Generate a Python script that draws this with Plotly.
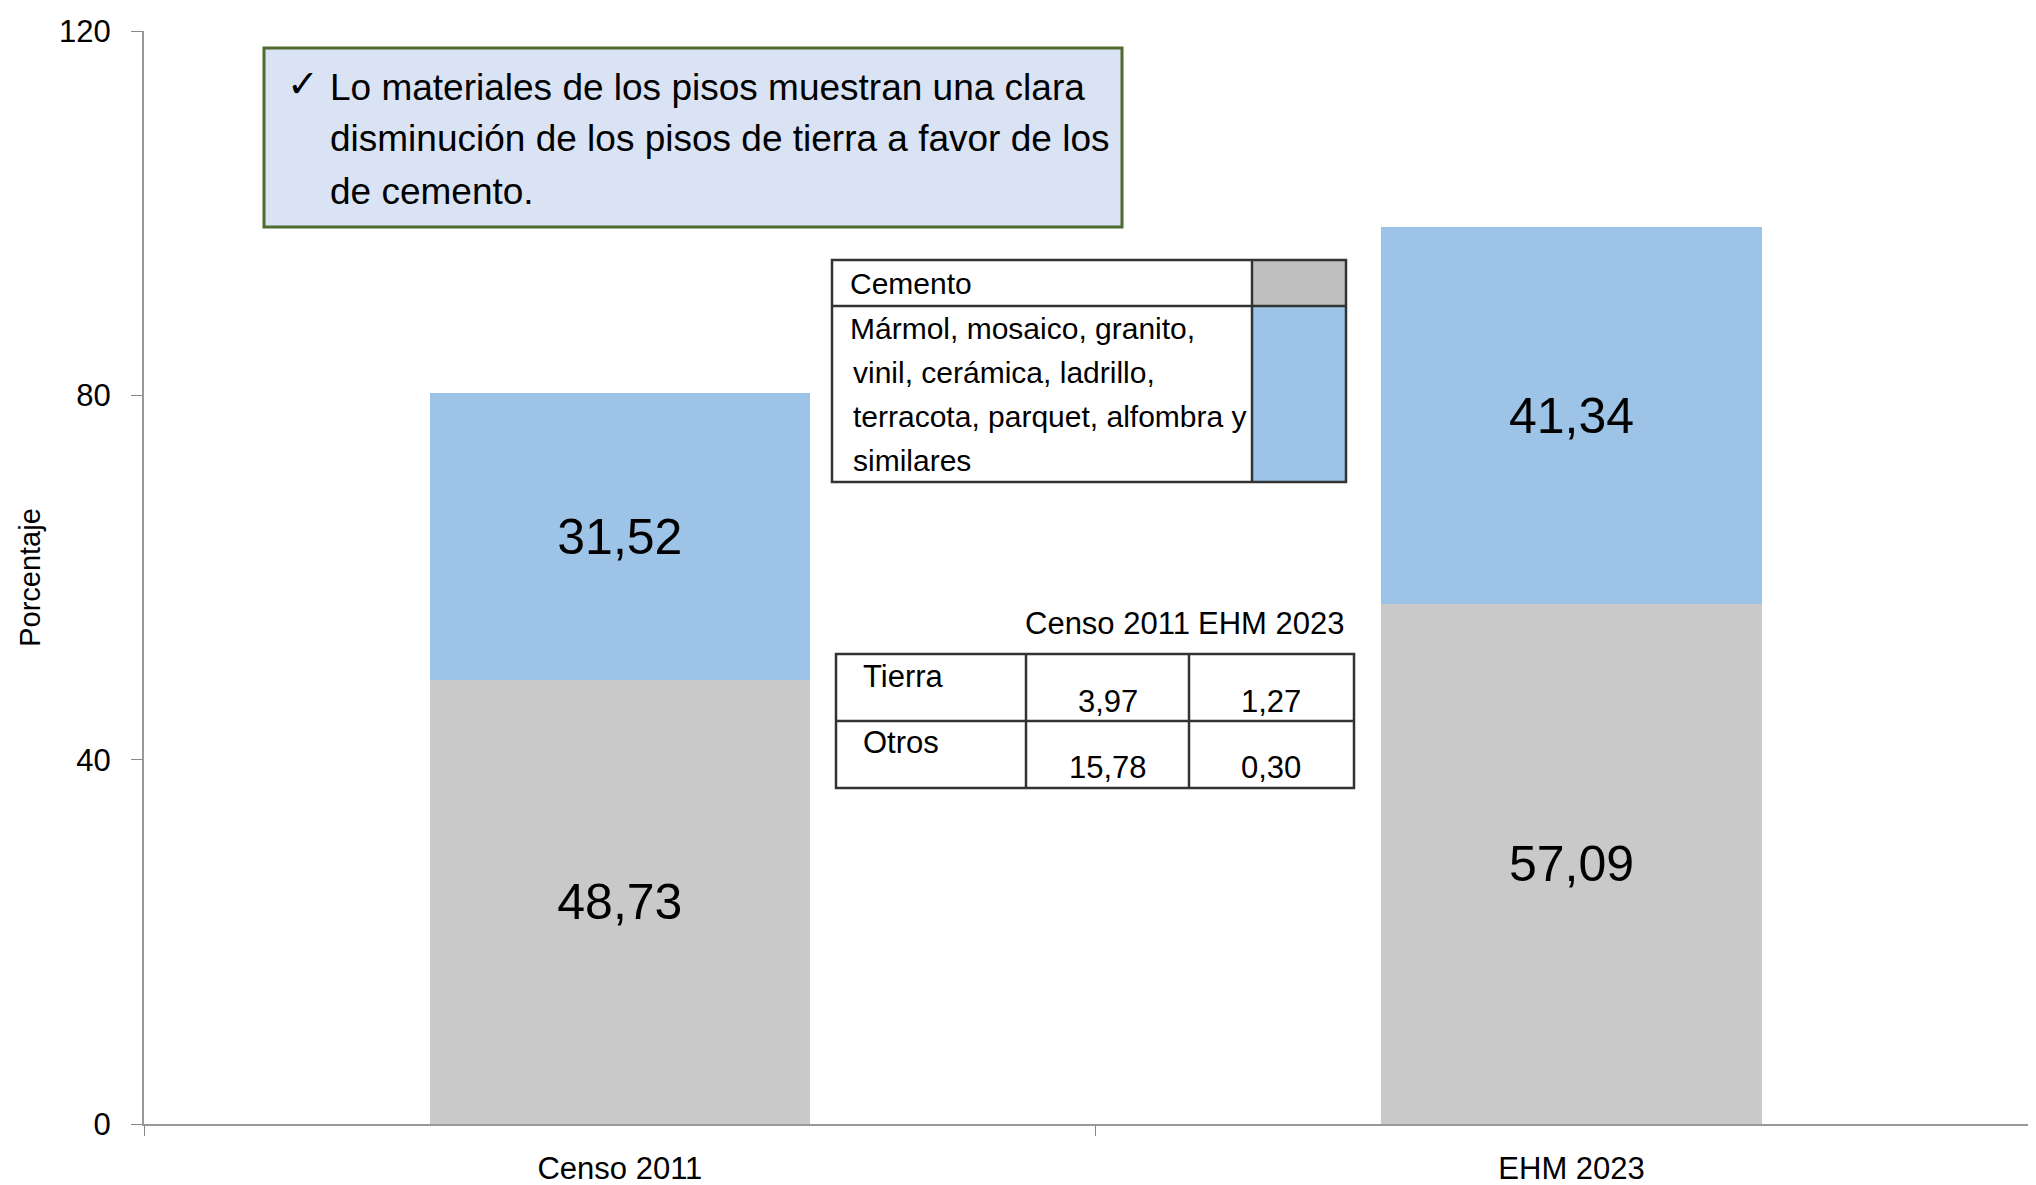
import plotly.graph_objects as go

# datos
categorias = ["Censo 2011", "EHM 2023"]
cemento = [48.73, 57.09]
marmol_otros = [31.52, 41.34]
etiq_cemento = ["48,73", "57,09"]
etiq_marmol = ["31,52", "41,34"]

tabla_filas = ["Tierra", "Otros"]
tabla_censo = ["3,97", "15,78"]
tabla_ehm = ["1,27", "0,30"]

nota = ["Lo materiales de los pisos muestran una clara",
        "disminución de los pisos de tierra a favor de los",
        "de cemento."]
leyenda_cemento = "Cemento"
leyenda_marmol = ["Mármol, mosaico, granito,",
                  "vinil, cerámica, ladrillo,",
                  "terracota, parquet, alfombra y",
                  "similares"]

GRIS = "#C9C9C9"
AZUL = "#9DC3E6"
BORDE = "#333333"
FUENTE = "Liberation Sans, Arial"


# posiciones de página (px) -> coordenadas paper
def px(x):
    return (x - 144) / 1892


def py(y):
    return (1124 - y) / 1093


def texto(t, x, y, size, xanchor="center", family=FUENTE):
    return dict(text=t, xref="paper", yref="paper", x=px(x), y=py(y),
                xanchor=xanchor, yanchor="middle", showarrow=False,
                font=dict(size=size, family=family, color="black"))


fig = go.Figure()

fig.add_trace(go.Bar(
    x=categorias, y=cemento, marker=dict(color=GRIS, line=dict(width=0)),
    text=etiq_cemento, textposition="inside", insidetextanchor="middle",
    textfont=dict(size=50, color="black", family=FUENTE), width=0.4, name="Cemento"
))
fig.add_trace(go.Bar(
    x=categorias, y=marmol_otros, marker=dict(color=AZUL, line=dict(width=0)),
    text=etiq_marmol, textposition="inside", insidetextanchor="middle",
    textfont=dict(size=50, color="black", family=FUENTE), width=0.4, name="Mármol"
))

shapes = []
annots = []

# recuadro de la nota
shapes.append(dict(type="rect", xref="paper", yref="paper",
                   x0=px(264), x1=px(1122), y0=py(227), y1=py(48),
                   fillcolor="#DAE3F3", line=dict(color="#4F6B2F", width=3)))
annots.append(texto("✓", 303, 84, 38, family="DejaVu Sans"))
for i, linea in enumerate(nota):
    annots.append(texto(linea, 328, 87 + 52 * i, 37, xanchor="left"))

# leyenda tipo tabla
lx0, lx1, lxs = 832, 1346, 1252
ly0, ly1, lym = 260, 482, 306
shapes.append(dict(type="rect", xref="paper", yref="paper", x0=px(lxs), x1=px(lx1),
                   y0=py(lym), y1=py(ly0), fillcolor="#C0C0C0", line=dict(width=0)))
shapes.append(dict(type="rect", xref="paper", yref="paper", x0=px(lxs), x1=px(lx1),
                   y0=py(ly1), y1=py(lym), fillcolor=AZUL, line=dict(width=0)))
shapes.append(dict(type="rect", xref="paper", yref="paper", x0=px(lx0), x1=px(lx1),
                   y0=py(ly1), y1=py(ly0), line=dict(color=BORDE, width=2.5)))
shapes.append(dict(type="line", xref="paper", yref="paper", x0=px(lxs), x1=px(lxs),
                   y0=py(ly1), y1=py(ly0), line=dict(color=BORDE, width=2.5)))
shapes.append(dict(type="line", xref="paper", yref="paper", x0=px(lx0), x1=px(lx1),
                   y0=py(lym), y1=py(lym), line=dict(color=BORDE, width=2.5)))
annots.append(texto(leyenda_cemento, 848, 284, 30, xanchor="left"))
for i, linea in enumerate(leyenda_marmol):
    annots.append(texto(linea, 848 if i == 0 else 851, 328 + 44 * i, 30, xanchor="left"))

# tabla Tierra / Otros
tx = [836, 1026, 1189, 1354]
ty = [654, 721, 788]
annots.append(texto(categorias[0], 1107, 623, 31))
annots.append(texto(categorias[1], 1271, 623, 31))
shapes.append(dict(type="rect", xref="paper", yref="paper", x0=px(tx[0]), x1=px(tx[3]),
                   y0=py(ty[2]), y1=py(ty[0]), line=dict(color=BORDE, width=2.5)))
for xv in tx[1:3]:
    shapes.append(dict(type="line", xref="paper", yref="paper", x0=px(xv), x1=px(xv),
                       y0=py(ty[2]), y1=py(ty[0]), line=dict(color=BORDE, width=2.5)))
shapes.append(dict(type="line", xref="paper", yref="paper", x0=px(tx[0]), x1=px(tx[3]),
                   y0=py(ty[1]), y1=py(ty[1]), line=dict(color=BORDE, width=2.5)))
for i in range(2):
    annots.append(texto(tabla_filas[i], 861, 676 + 66 * i, 31, xanchor="left"))
    annots.append(texto(tabla_censo[i], 1108, 701 + 66 * i, 31))
    annots.append(texto(tabla_ehm[i], 1271, 701 + 66 * i, 31))

# la página añade 8 px de margen, por eso 2028x1177
fig.update_layout(
    barmode="stack",
    width=2028, height=1177,
    margin=dict(l=136, r=0, t=23, b=61),
    paper_bgcolor="white", plot_bgcolor="white",
    showlegend=False,
    font=dict(family=FUENTE, color="black", size=31),
    xaxis=dict(range=[-0.5, 1.488], tickson="boundaries", ticks="outside", ticklen=10,
               tickcolor="#888888", showline=True, linecolor="#999999", linewidth=2,
               showgrid=False, tickfont=dict(size=31), ticklabelstandoff=16,
               automargin=False),
    yaxis=dict(range=[0, 120], tickvals=[0, 40, 80, 120], ticks="outside", ticklen=11,
               tickcolor="#888888", showline=True, linecolor="#999999", linewidth=2,
               showgrid=False, zeroline=False, tickfont=dict(size=31),
               ticklabelstandoff=14, automargin=False,
               title=dict(text="Porcentaje", font=dict(size=29), standoff=10)),
    shapes=shapes, annotations=annots,
)

fig.write_html("out.html")
